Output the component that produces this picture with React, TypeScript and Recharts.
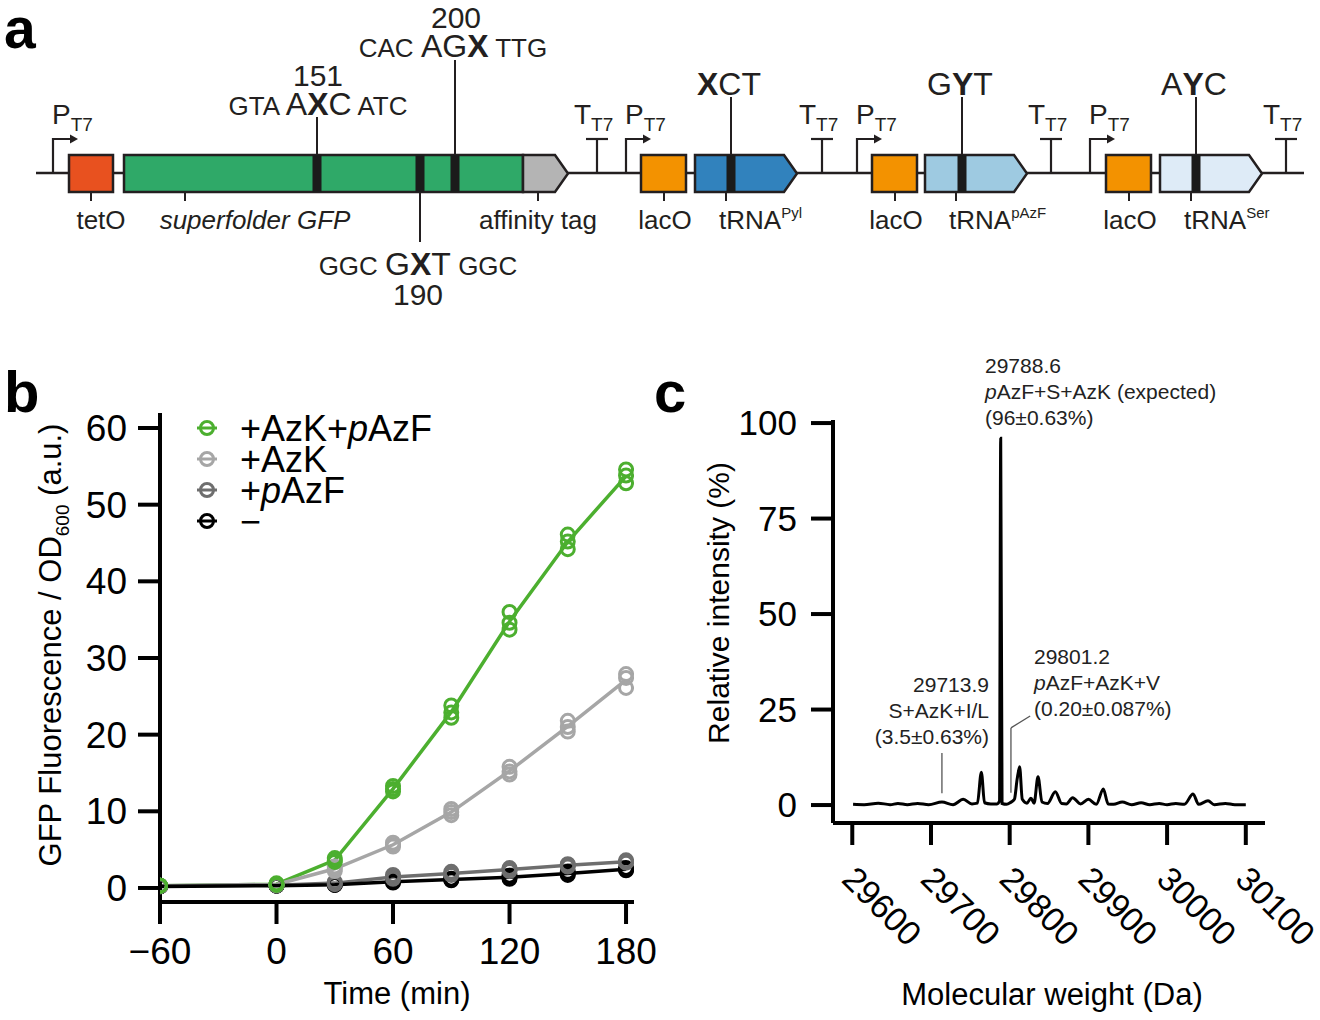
import React from "react";
import {
  ComposedChart,
  Legend,
  Line,
  ReferenceLine,
  Scatter,
  Surface,
  XAxis,
  YAxis,
} from "recharts";

const FONT = '"Liberation Sans", Arial, Helvetica, sans-serif';
const INK = "#231f20";

// ---- panel b: GFP fluorescence over time (three replicates per point) ----
const timesMin = [-60, 0, 30, 60, 90, 120, 150, 180];
const repAzkPazf = [
  [0.3, 0.3, 0.3],
  [0.5, 0.6, 0.4],
  [3.9, 3.6, 3.4],
  [13.3, 12.9, 12.6],
  [23.8, 22.9, 22.2],
  [36.0, 34.6, 33.7],
  [46.1, 45.2, 44.2],
  [54.6, 53.8, 52.8],
];
const repAzk = [
  [0.3, 0.3, 0.3],
  [0.5, 0.5, 0.4],
  [2.8, 2.5, 2.2],
  [5.9, 5.6, 5.4],
  [10.3, 9.9, 9.5],
  [15.8, 15.2, 14.8],
  [21.8, 21.0, 20.4],
  [27.9, 27.4, 26.1],
];
const repPazf = [
  [0.3, 0.3, 0.2],
  [0.4, 0.4, 0.3],
  [0.8, 0.6, 0.5],
  [1.7, 1.4, 1.2],
  [2.1, 1.9, 1.7],
  [2.6, 2.4, 2.2],
  [3.1, 3.0, 2.8],
  [3.6, 3.4, 3.3],
];
const repMinus = [
  [0.2, 0.2, 0.2],
  [0.3, 0.3, 0.3],
  [0.5, 0.4, 0.4],
  [0.9, 0.8, 0.7],
  [1.2, 1.1, 1.0],
  [1.6, 1.4, 1.2],
  [2.1, 1.9, 1.7],
  [2.6, 2.4, 2.3],
];
const seriesLabels = ["+AzK+pAzF", "+AzK", "+pAzF", "\u2212"];
const seriesColors = ["#4caf2f", "#a6a6a6", "#6e6e6e", "#000000"];
const timeTicks = [-60, 0, 60, 120, 180];
const gfpTicks = [0, 10, 20, 30, 40, 50, 60];

// ---- panel c: deconvoluted intact mass spectrum ----
const massDa = [
  29601, 29615, 29633, 29648, 29658, 29670, 29683, 29697, 29713.9, 29728,
  29741, 29752, 29759, 29764, 29768, 29776, 29784, 29787, 29788.6, 29790.3,
  29796, 29801.2, 29806, 29809.5, 29812.6, 29816, 29822, 29827, 29831, 29836,
  29841, 29848, 29858, 29866, 29872, 29880, 29890, 29900, 29910, 29919,
  29925, 29932, 29943, 29955, 29967, 29978, 29990, 30000, 30011, 30022,
  30033, 30040, 30052, 30060, 30074, 30086, 30100,
];
const relIntensity = [
  0.2, 0.1, 0.5, 0.1, 0.4, 0.1, 0.4, 0.1, 0.8, 0.1,
  1.5, 0.3, 0.5, 8.6, 0.6, 0.3, 0.3, 1.0, 96, 0.4,
  0.2, 0.7, 1.5, 6.8, 10.0, 1.5, 0.5, 1.8, 0.5, 7.4,
  0.8, 0.4, 3.5, 0.4, 0.3, 1.9, 0.3, 1.5, 0.2, 4.2,
  0.3, 0.2, 0.8, 0.1, 0.6, 0.1, 0.4, 0.1, 0.4, 0.2,
  2.9, 0.2, 1.1, 0.1, 0.4, 0.1, 0.1,
];
const massTicks = [29600, 29700, 29800, 29900, 30000, 30100];
const intensityTicks = [0, 25, 50, 75, 100];

const mean = (a: number[]) => a.reduce((s, v) => s + v, 0) / a.length;
const replicates = [repAzkPazf, repAzk, repPazf, repMinus];
const lineData = replicates.map((reps) =>
  timesMin.map((t, i) => ({ t, v: mean(reps[i]) }))
);
const pointData = replicates.map((reps) =>
  timesMin.flatMap((t, i) => reps[i].map((v) => ({ t, v })))
);
const spectrum = massDa.map((mw, i) => ({ mw, ri: relIntensity[i] }));

// italic "p" in pAzF
const withItalicP = (s: string) =>
  s
    .split(/(p(?=AzF))/)
    .filter(Boolean)
    .map((part, i) =>
      part === "p" ? (
        <tspan key={i} fontStyle="italic">
          p
        </tspan>
      ) : (
        <tspan key={i}>{part}</tspan>
      )
    );

const axisStyle = { stroke: "#000", strokeWidth: 4 };
const fmtMinus = (v: number) => (v < 0 ? `\u2212${-v}` : `${v}`);

// legend rows sit tightly stacked, as in the figure
const LegendB = () => (
  <svg width={300} height={150} style={{ fontFamily: FONT, overflow: "visible" }}>
    {seriesLabels.map((name, i) => {
      const cy = 28 + i * 31;
      return (
        <g key={name}>
          <line x1={7} x2={27} y1={cy} y2={cy} stroke={seriesColors[i]} strokeWidth={3} />
          <circle cx={17} cy={cy} r={6.5} fill="none" stroke={seriesColors[i]} strokeWidth={3} />
          <text x={50} y={cy + 13} fontSize={36} fill="#000">
            {withItalicP(name)}
          </text>
        </g>
      );
    })}
  </svg>
);

const renderMassTick = (props: any) => {
  const { x, y, payload } = props;
  const ax = x - 12;
  const ay = y + 36;
  return (
    <text x={ax} y={ay} transform={`rotate(45, ${ax}, ${ay})`} fontSize={34} fill="#000">
      {payload.value}
    </text>
  );
};

const GrowthChart = () => (
  <ComposedChart width={660} height={640} margin={{ top: 33, right: 26, bottom: 0, left: 0 }}>
    <XAxis
      type="number"
      dataKey="t"
      domain={[-60, 184.1]}
      allowDataOverflow
      ticks={timeTicks}
      interval={0}
      tickFormatter={fmtMinus}
      height={118}
      tickSize={22}
      tickMargin={14}
      axisLine={axisStyle}
      tickLine={axisStyle}
      tick={{ fill: "#000", fontSize: 37 }}
      label={() => (
        <text x={397} y={624} textAnchor="middle" fontSize={31} fill="#000">
          Time (min)
        </text>
      )}
    />
    <YAxis
      type="number"
      dataKey="v"
      domain={[-1.83, 61.96]}
      allowDataOverflow
      ticks={gfpTicks}
      interval={0}
      width={160}
      tickSize={22}
      tickMargin={11}
      axisLine={axisStyle}
      tickLine={axisStyle}
      tick={{ fill: "#000", fontSize: 37 }}
      label={() => (
        <text transform="translate(61,265) rotate(-90)" textAnchor="middle" fontSize={31} fill="#000">
          GFP Fluorescence / OD
          <tspan fontSize={19} dy={8}>
            600
          </tspan>
          <tspan dy={-8}> (a.u.)</tspan>
        </text>
      )}
    />
    {lineData.map((d, i) => (
      <Line
        key={`l${i}`}
        data={d}
        dataKey="v"
        name={seriesLabels[i]}
        stroke={seriesColors[i]}
        strokeWidth={3.5}
        dot={false}
        isAnimationActive={false}
      />
    ))}
    {[3, 2, 1, 0].map((i) => (
      <Scatter
        key={`s${i}`}
        data={pointData[i]}
        dataKey="v"
        legendType="none"
        isAnimationActive={false}
        shape={(p: any) => (
          <circle cx={p.cx} cy={p.cy} r={6.5} fill="none" stroke={seriesColors[i]} strokeWidth={3} />
        )}
      />
    ))}
    <Legend
      layout="vertical"
      align="center"
      verticalAlign="middle"
      wrapperStyle={{ position: "absolute", left: 190, top: 20, width: 300, height: 150 }}
      content={() => <LegendB />}
    />
  </ComposedChart>
);

const SpectrumChart = () => (
  <ComposedChart width={660} height={680} margin={{ top: 80, right: 55, bottom: 0, left: 0 }}>
    <XAxis
      type="number"
      dataKey="mw"
      domain={[29575.5, 30124.4]}
      allowDataOverflow
      ticks={massTicks}
      interval={0}
      height={197}
      tickSize={22}
      tickMargin={0}
      axisLine={axisStyle}
      tickLine={axisStyle}
      tick={renderMassTick}
      label={() => (
        <text x={392} y={665} textAnchor="middle" fontSize={31} fill="#000">
          Molecular weight (Da)
        </text>
      )}
    />
    <YAxis
      type="number"
      dataKey="ri"
      domain={[-4.7, 100.8]}
      allowDataOverflow
      ticks={intensityTicks}
      interval={0}
      width={173}
      tickSize={22}
      tickMargin={14}
      axisLine={axisStyle}
      tickLine={axisStyle}
      tick={{ fill: "#000", fontSize: 35 }}
      label={() => (
        <text transform="translate(69,263) rotate(-90)" textAnchor="middle" fontSize={30} fill="#000">
          Relative intensity (%)
        </text>
      )}
    />
    <Line
      data={spectrum}
      dataKey="ri"
      type="monotone"
      stroke="#000"
      strokeWidth={3}
      dot={false}
      isAnimationActive={false}
    />
    <ReferenceLine
      segment={[{ x: 29713.9, y: 3.1 }, { x: 29713.9, y: 13.6 }]}
      stroke="#555"
      strokeWidth={1.3}
    />
    <ReferenceLine
      segment={[{ x: 29801.6, y: 3.2 }, { x: 29801.6, y: 20.2 }]}
      stroke="#555"
      strokeWidth={1.3}
    />
    <ReferenceLine
      segment={[{ x: 29801.6, y: 20.2 }, { x: 29826, y: 23.3 }]}
      stroke="#555"
      strokeWidth={1.3}
    />
  </ComposedChart>
);

// ---- panel a: plasmid construct ----
const promoterX = [53, 626, 857, 1090];
const terminatorX = [597, 822, 1051, 1286];
const cassettes = [
  { lac: 641, trna: 695, band: 731, fill: "#3182bd", codon: ["", "X", "CT"], sup: "Pyl" },
  { lac: 872, trna: 925, band: 962, fill: "#9ecae1", codon: ["G", "Y", "T"], sup: "pAzF" },
  { lac: 1106, trna: 1160, band: 1196, fill: "#deebf7", codon: ["A", "Y", "C"], sup: "Ser" },
];

// codon with flanking triplets; the non-canonical position is bold
const Codon = ({ x, y, pre, big, bold, post }: any) => (
  <text x={x} y={y} textAnchor="middle" fill={INK}>
    <tspan fontSize={26}>{pre} </tspan>
    {big.map((ch: string, i: number) => (
      <tspan key={i} fontSize={32} fontWeight={i === bold ? "bold" : "normal"}>
        {ch}
      </tspan>
    ))}
    <tspan fontSize={26}> {post}</tspan>
  </text>
);

const Construct = () => (
  <Surface width={1320} height={330} viewBox={{ x: 0, y: 0, width: 1320, height: 330 }}>
    <g style={{ fontFamily: FONT }}>
      <line x1={36} y1={173} x2={1304} y2={173} stroke={INK} strokeWidth={2.5} />
      {promoterX.map((x) => (
        <g key={`p${x}`}>
          <polyline points={`${x},173 ${x},139 ${x + 18},139`} fill="none" stroke={INK} strokeWidth={2.2} />
          <polygon points={`${x + 17},134.5 ${x + 25},139 ${x + 17},143.5`} fill={INK} />
          <text x={x - 1} y={124} fontSize={28} fill={INK}>
            P<tspan fontSize={19} dy={7}>T7</tspan>
          </text>
        </g>
      ))}
      {terminatorX.map((x) => (
        <g key={`t${x}`}>
          <line x1={x} x2={x} y1={173} y2={139} stroke={INK} strokeWidth={2.2} />
          <line x1={x - 11} x2={x + 11} y1={139} y2={139} stroke={INK} strokeWidth={2.2} />
          <text x={x - 23} y={124} fontSize={28} fill={INK}>
            T<tspan fontSize={19} dy={7}>T7</tspan>
          </text>
        </g>
      ))}
      {/* GFP reporter */}
      <rect x={69} y={155} width={44} height={37} fill="#e8511f" stroke={INK} strokeWidth={2.5} />
      <rect x={124} y={155} width={399} height={37} fill="#2fa968" stroke={INK} strokeWidth={2.5} />
      <polygon points="523,155 555,155 568,173.5 555,192 523,192" fill="#b4b4b4" stroke={INK} strokeWidth={2.5} />
      {[317, 420, 455].map((bx) => (
        <rect key={bx} x={bx - 4.5} y={155} width={9} height={37} fill="#1b1b1b" />
      ))}
      <line x1={317} x2={317} y1={117} y2={155} stroke={INK} strokeWidth={2} />
      <line x1={455} x2={455} y1={60} y2={155} stroke={INK} strokeWidth={2} />
      <line x1={420} x2={420} y1={192} y2={242} stroke={INK} strokeWidth={2} />
      <text x={456} y={28} textAnchor="middle" fontSize={30} fill={INK}>200</text>
      <Codon x={453} y={57} pre="CAC" big={["A", "G", "X"]} bold={2} post="TTG" />
      <text x={318} y={86} textAnchor="middle" fontSize={30} fill={INK}>151</text>
      <Codon x={318} y={115} pre="GTA" big={["A", "X", "C"]} bold={1} post="ATC" />
      <Codon x={418} y={275} pre="GGC" big={["G", "X", "T"]} bold={1} post="GGC" />
      <text x={418} y={305} textAnchor="middle" fontSize={30} fill={INK}>190</text>
      {[91, 185, 538].map((tx) => (
        <line key={tx} x1={tx} x2={tx} y1={192} y2={201} stroke={INK} strokeWidth={2} />
      ))}
      <text x={101} y={229} textAnchor="middle" fontSize={26} fill={INK}>tetO</text>
      <text x={255} y={229} textAnchor="middle" fontSize={26} fontStyle="italic" fill={INK}>
        superfolder GFP
      </text>
      <text x={538} y={229} textAnchor="middle" fontSize={26} fill={INK}>affinity tag</text>
      {/* tRNA cassettes */}
      {cassettes.map((c) => (
        <g key={c.sup}>
          <rect x={c.lac} y={155} width={45} height={37} fill="#f39200" stroke={INK} strokeWidth={2.5} />
          <polygon
            points={`${c.trna},155 ${c.trna + 89},155 ${c.trna + 102},173.5 ${c.trna + 89},192 ${c.trna},192`}
            fill={c.fill}
            stroke={INK}
            strokeWidth={2.5}
          />
          <rect x={c.band - 4.5} y={155} width={9} height={37} fill="#1b1b1b" />
          <line x1={c.band} x2={c.band} y1={97} y2={155} stroke={INK} strokeWidth={2} />
          <text x={c.band - 2} y={95} textAnchor="middle" fontSize={32} fill={INK}>
            {c.codon[0]}
            <tspan fontWeight="bold">{c.codon[1]}</tspan>
            {c.codon[2]}
          </text>
          <line x1={c.lac + 23} x2={c.lac + 23} y1={192} y2={201} stroke={INK} strokeWidth={2} />
          <line x1={c.trna + 31} x2={c.trna + 31} y1={192} y2={201} stroke={INK} strokeWidth={2} />
          <text x={c.lac + 24} y={229} textAnchor="middle" fontSize={26} fill={INK}>lacO</text>
          <text x={c.trna + 24} y={229} fontSize={26} fill={INK}>
            tRNA<tspan fontSize={15} dy={-11}>{c.sup}</tspan>
          </text>
        </g>
      ))}
    </g>
  </Surface>
);

export default function App() {
  return (
    <div
      style={{
        position: "absolute",
        left: 0,
        top: 0,
        width: 1320,
        height: 1020,
        background: "#fff",
        fontFamily: FONT,
        overflow: "hidden",
      }}
    >
      <div style={{ position: "absolute", left: 0, top: 0 }}>
        <Construct />
      </div>
      <div style={{ position: "absolute", left: 0, top: 380 }}>
        <GrowthChart />
      </div>
      <div style={{ position: "absolute", left: 660, top: 340 }}>
        <SpectrumChart />
      </div>
      <svg
        width={1320}
        height={1020}
        style={{ position: "absolute", left: 0, top: 0, pointerEvents: "none", fontFamily: FONT }}
      >
        <text x={4} y={48} fontSize={57} fontWeight="bold">a</text>
        <text x={4} y={412} fontSize={58} fontWeight="bold">b</text>
        <text x={654} y={412} fontSize={58} fontWeight="bold">c</text>
        <g fontSize={21} fill="#222">
          <text x={985} y={373}>29788.6</text>
          <text x={985} y={399}>{withItalicP("pAzF+S+AzK (expected)")}</text>
          <text x={985} y={425}>(96±0.63%)</text>
          <text x={989} y={692} textAnchor="end">29713.9</text>
          <text x={989} y={718} textAnchor="end">S+AzK+I/L</text>
          <text x={989} y={744} textAnchor="end">(3.5±0.63%)</text>
          <text x={1034} y={664}>29801.2</text>
          <text x={1034} y={690}>{withItalicP("pAzF+AzK+V")}</text>
          <text x={1034} y={716}>(0.20±0.087%)</text>
        </g>
      </svg>
    </div>
  );
}
